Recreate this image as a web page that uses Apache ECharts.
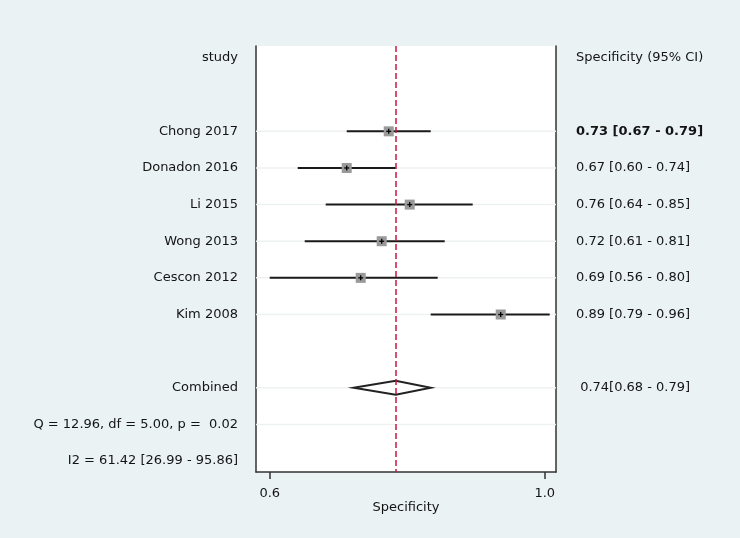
<!DOCTYPE html>
<html><head><meta charset="utf-8">
<script src="https://cdn.jsdelivr.net/npm/echarts@6/dist/echarts.min.js"></script>
<style>html,body{margin:0;padding:0;background:#EAF2F3}#c{width:740px;height:538px}</style>
</head><body><div id="c"></div><script>
// ---- data ----
const studies = ['Chong 2017', 'Donadon 2016', 'Li 2015', 'Wong 2013', 'Cescon 2012', 'Kim 2008'];
const spec    = [0.73, 0.67, 0.76, 0.72, 0.69, 0.89];
const specLo  = [0.67, 0.60, 0.64, 0.61, 0.56, 0.79];
const specHi  = [0.79, 0.74, 0.85, 0.81, 0.80, 0.96];
const ciText  = ['0.73 [0.67 - 0.79]', '0.67 [0.60 - 0.74]', '0.76 [0.64 - 0.85]', '0.72 [0.61 - 0.81]', '0.69 [0.56 - 0.80]', '0.89 [0.79 - 0.96]'];
const pooled = [0.74, 0.68, 0.79]; // estimate, lo, hi
const pooledText = ' 0.74[0.68 - 0.79]';
const statQ = 'Q = 12.96, df = 5.00, p =  0.02';
const statI2 = 'I2 = 61.42 [26.99 - 95.86]';
const xTickValues = [0.56, 0.953];
const xTickLabels = ['0.6', '1.0'];
const leftHeader = 'study';
const rightHeader = 'Specificity (95% CI)';
const xName = 'Specificity';

// ---- rows ----
const leftLabels = [leftHeader, ''].concat(studies, ['', 'Combined', statQ, statI2]);
const rightLabels = [rightHeader, ''].concat(ciText, ['', pooledText, '', '']);
const studyRows = studies.map(s => leftLabels.indexOf(s));
const combinedRow = leftLabels.indexOf('Combined');
const statRow = leftLabels.indexOf(statQ);
const gridRows = studyRows.concat([combinedRow, statRow]);
const leftRows = leftLabels.map((l, i) => l ? i : -1).filter(i => i >= 0);
const rightRows = rightLabels.map((l, i) => l ? i : -1).filter(i => i >= 0);

const FONT = 'DejaVu Sans';
const TXT = '#141414';
const chart = echarts.init(document.getElementById('c'));

chart.setOption({
  backgroundColor: '#EAF2F3',
  animation: false,
  grid: { left: 256, right: 184, top: 46, bottom: 66, show: true, backgroundColor: '#ffffff', borderWidth: 0 },
  xAxis: {
    type: 'value', min: 0.5404, max: 0.9690,
    axisLine: { show: true, onZero: false, lineStyle: { color: '#333', width: 1.5 } },
    splitLine: { show: false },
    axisTick: { show: true, length: 7, customValues: xTickValues, lineStyle: { color: '#333', width: 1.5 } },
    axisLabel: {
      customValues: xTickValues, margin: 15,
      formatter: v => xTickLabels[xTickValues.indexOf(v)] ?? '',
      fontFamily: FONT, fontSize: 13, color: TXT
    },
    name: xName, nameLocation: 'middle', nameGap: 29, nameMoveOverlap: false,
    nameTextStyle: { fontFamily: FONT, fontSize: 13, color: TXT }
  },
  yAxis: [{
    type: 'value', inverse: true, min: -0.33, max: 11.3, position: 'left',
    axisLine: { show: true, onZero: false, lineStyle: { color: '#333', width: 1.5 } },
    axisTick: { show: false }, splitLine: { show: false },
    axisLabel: {
      customValues: leftRows, margin: 18,
      formatter: v => leftLabels[Math.round(v)] || '',
      fontFamily: FONT, fontSize: 13, color: TXT
    }
  }, {
    type: 'value', inverse: true, min: -0.33, max: 11.3, position: 'right',
    axisLine: { show: true, onZero: false, lineStyle: { color: '#333', width: 1.5 } },
    axisTick: { show: false }, splitLine: { show: false },
    axisLabel: {
      customValues: rightRows, margin: 20,
      formatter: v => {
        const r = Math.round(v);
        const t = rightLabels[r] || '';
        return r === studyRows[0] ? '{b|' + t + '}' : t;
      },
      fontFamily: FONT, fontSize: 13, color: TXT,
      rich: { b: { fontFamily: FONT, fontSize: 13, fontWeight: 'bold', color: TXT } }
    }
  }],
  series: [{
    type: 'custom', z: 1, silent: true,
    data: gridRows.map(r => [pooled[0], r]),
    encode: { x: 0, y: 1 },
    renderItem: (params, api) => {
      const cs = params.coordSys;
      const y = api.coord([api.value(0), api.value(1)])[1];
      return { type: 'line', shape: { x1: cs.x, y1: y, x2: cs.x + cs.width, y2: y },
               style: { stroke: '#EEF1F1', lineWidth: 1.5 } };
    }
  }, {
    type: 'custom', z: 2, silent: true,
    data: studies.map((s, i) => [specLo[i], specHi[i], spec[i], studyRows[i]]),
    encode: { x: [0, 1, 2], y: 3 },
    renderItem: (params, api) => {
      const r = api.value(3);
      const a = api.coord([api.value(0), r]);
      const b = api.coord([api.value(1), r]);
      const c = api.coord([api.value(2), r]);
      return { type: 'group', children: [
        { type: 'line', shape: { x1: a[0], y1: a[1], x2: b[0], y2: b[1] }, style: { stroke: '#1a1a1a', lineWidth: 2 } },
        { type: 'rect', shape: { x: c[0] - 5, y: c[1] - 5, width: 10, height: 10 }, style: { fill: '#9a9a9a' } },
        { type: 'line', shape: { x1: c[0] - 2.5, y1: c[1], x2: c[0] + 2.5, y2: c[1] }, style: { stroke: '#000', lineWidth: 1.3 } },
        { type: 'line', shape: { x1: c[0], y1: c[1] - 2.5, x2: c[0], y2: c[1] + 2.5 }, style: { stroke: '#000', lineWidth: 1.3 } }
      ] };
    }
  }, {
    type: 'custom', z: 3, silent: true,
    data: [[pooled[1], pooled[2], pooled[0], combinedRow]],
    encode: { x: [0, 1, 2], y: 3 },
    renderItem: (params, api) => {
      const r = api.value(3);
      const a = api.coord([api.value(0), r]);
      const b = api.coord([api.value(1), r]);
      const c = api.coord([api.value(2), r]);
      return { type: 'polygon',
        shape: { points: [[a[0], a[1]], [c[0], c[1] - 7], [b[0], b[1]], [c[0], c[1] + 7]] },
        style: { fill: '#fff', stroke: '#222', lineWidth: 2 } };
    },
    markLine: {
      silent: true, symbol: 'none', label: { show: false }, z: 10,
      lineStyle: { color: '#C8173F', type: [6, 3], width: 1.5 },
      data: [{ xAxis: pooled[0] }]
    }
  }]
});
</script></body></html>
